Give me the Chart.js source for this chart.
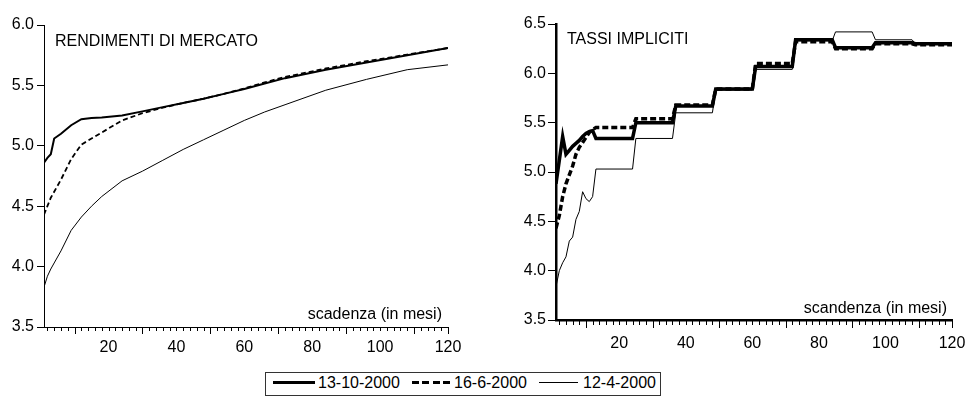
<!DOCTYPE html>
<html>
<head>
<meta charset="utf-8">
<script src="https://cdn.jsdelivr.net/npm/chart.js@4"></script>
<style>
  body { margin: 0; width: 965px; height: 396px; position: relative; background: #fff; overflow: hidden;
         font-family: "Liberation Sans", Arial, sans-serif; color: #000; }
  canvas { position: absolute; top: 0; }
  .note { position: absolute; font-size: 16px; line-height: 16px; white-space: nowrap; }
  #legend { position: absolute; left: 265px; top: 372px; width: 396px; height: 24px;
            border: 1px solid #333; box-sizing: border-box; }
  .sample { position: absolute; }
</style>
</head>
<body>
<canvas id="left-chart" width="480" height="370" style="left:0"></canvas>
<canvas id="right-chart" width="485" height="370" style="left:480px"></canvas>

<div class="note" style="left:55px;top:33px">RENDIMENTI DI MERCATO</div>
<div class="note" style="left:567px;top:31px">TASSI IMPLICITI</div>
<div class="note" style="right:523px;top:306px">scadenza (in mesi)</div>
<div class="note" style="right:18px;top:300px">scandenza (in mesi)</div>

<div id="legend"></div>
<div class="sample" style="left:273px;top:381px;width:42px;height:3px;background:#000"></div>
<div class="note" style="left:318px;top:375px">13-10-2000</div>
<div class="sample" style="left:412px;top:381px;width:38px;height:3px;background:repeating-linear-gradient(to right,#000 0 7px,transparent 7px 10.3px)"></div>
<div class="note" style="left:454px;top:375px">16-6-2000</div>
<div class="sample" style="left:539px;top:382px;width:39px;height:1px;background:#000"></div>
<div class="note" style="left:583px;top:375px">12-4-2000</div>

<script>
// market yields (left) - maturity in months
const leftMat = [1, 2, 3, 4, 6, 9, 12, 15, 18, 24, 30, 36, 42, 48, 54, 60, 66, 72, 84, 96, 108, 120];
const leftOct = [4.86, 4.90, 4.93, 5.06, 5.10, 5.17, 5.22, 5.23, 5.235, 5.25, 5.285, 5.32, 5.355, 5.39, 5.43, 5.47, 5.515, 5.56, 5.63, 5.69, 5.75, 5.81];
const leftJun = [4.43, 4.50, 4.57, 4.62, 4.72, 4.89, 5.01, 5.06, 5.11, 5.21, 5.27, 5.315, 5.355, 5.39, 5.43, 5.475, 5.525, 5.57, 5.64, 5.70, 5.755, 5.81];
const leftApr = [3.83, 3.92, 3.98, 4.03, 4.13, 4.30, 4.41, 4.50, 4.58, 4.71, 4.79, 4.88, 4.97, 5.05, 5.13, 5.21, 5.28, 5.34, 5.46, 5.55, 5.63, 5.67];

// implied forward rates (right)
const rightMat = [1, 2, 3, 4, 5, 6, 7, 8, 9, 10, 11, 12, 13, 24, 25, 36, 37, 48, 49, 60, 61, 72, 73, 84, 85, 96, 97, 108, 109, 120];
const rightOct = [4.88, 5.12, 5.36, 5.18, 5.22, 5.26, 5.29, 5.32, 5.36, 5.39, 5.41, 5.42, 5.34, 5.34, 5.50, 5.50, 5.67, 5.67, 5.84, 5.84, 6.07, 6.07, 6.34, 6.34, 6.26, 6.26, 6.31, 6.31, 6.30, 6.30];
const rightJun = [4.43, 4.56, 4.75, 4.88, 4.97, 5.06, 5.18, 5.25, 5.30, 5.35, 5.40, 5.43, 5.45, 5.45, 5.54, 5.54, 5.68, 5.68, 5.84, 5.84, 6.10, 6.10, 6.32, 6.32, 6.25, 6.25, 6.30, 6.30, 6.29, 6.29];
const rightApr = [3.84, 4.00, 4.08, 4.14, 4.30, 4.34, 4.52, 4.60, 4.80, 4.73, 4.70, 4.75, 5.03, 5.03, 5.34, 5.34, 5.60, 5.60, 5.83, 5.83, 6.04, 6.04, 6.33, 6.33, 6.42, 6.42, 6.34, 6.34, 6.30, 6.30];

const seriesLabels = ["13-10-2000", "16-6-2000", "12-4-2000"];
const xLabels = [20, 40, 60, 80, 100, 120];
const majorTicks = [10, 30, 50, 70, 90, 110, 120];
const leftYTicks = [3.5, 4.0, 4.5, 5.0, 5.5, 6.0];
const rightYTicks = [3.5, 4.0, 4.5, 5.0, 5.5, 6.0, 6.5];

const FONT = { family: '"Liberation Sans", Arial, sans-serif', size: 16 };

function pts(mats, vals) {
  return mats.map((m, i) => ({ x: m, y: vals[i] }));
}

// x axis tick marks: short ones every 2 months, longer ones at majorTicks
const xTickPlugin = {
  id: "xTickMarks",
  afterDraw(chart, args, opts) {
    const sx = chart.scales.x;
    const bottom = chart.chartArea.bottom + opts.offset;
    const ctx = chart.ctx;
    ctx.save();
    ctx.strokeStyle = "#000";
    ctx.lineWidth = 1;
    ctx.beginPath();
    for (let v = 2; v <= 120; v += 2) {
      const px = Math.round(sx.getPixelForValue(v)) + 0.5;
      ctx.moveTo(px, bottom);
      ctx.lineTo(px, bottom + opts.minor);
    }
    majorTicks.forEach((v) => {
      const px = Math.round(sx.getPixelForValue(v)) + 0.5;
      ctx.moveTo(px, bottom);
      ctx.lineTo(px, bottom + opts.major);
    });
    ctx.stroke();
    ctx.restore();
  },
};

function makeChart(id, cfg) {
  return new Chart(document.getElementById(id), {
    type: "line",
    data: {
      datasets: [
        { label: seriesLabels[0], data: pts(cfg.mat, cfg.series[0]), borderColor: "#000",
          borderWidth: cfg.widths[0], pointRadius: 0, tension: 0 },
        { label: seriesLabels[1], data: pts(cfg.mat, cfg.series[1]), borderColor: "#000",
          borderWidth: cfg.widths[1], borderDash: cfg.dash, pointRadius: 0, tension: 0 },
        { label: seriesLabels[2], data: pts(cfg.mat, cfg.series[2]), borderColor: "#000",
          borderWidth: cfg.widths[2], pointRadius: 0, tension: 0 },
      ],
    },
    plugins: [xTickPlugin],
    options: {
      responsive: false,
      animation: false,
      events: [],
      layout: { padding: { left: 0, top: cfg.top, right: cfg.right, bottom: 0 } },
      plugins: {
        legend: { display: false },
        tooltip: { enabled: false },
        xTickMarks: { minor: 4, major: 7, offset: cfg.axisWidth > 1 ? 1 : 0 },
      },
      scales: {
        x: {
          type: "linear",
          min: 1,
          max: 120,
          afterBuildTicks: (scale) => { scale.ticks = xLabels.map((v) => ({ value: v })); },
          afterFit: (scale) => {
            scale.height = cfg.xHeight;
            scale.paddingLeft = 0;
            scale.paddingRight = 0;
          },
          ticks: {
            autoSkip: false,
            maxRotation: 0,
            padding: cfg.xPad,
            color: "#000",
            font: FONT,
          },
          grid: { display: false, drawTicks: false },
          border: { display: true, color: "#000", width: cfg.axisWidth },
        },
        y: {
          min: 3.5,
          max: cfg.yMax,
          afterBuildTicks: (scale) => { scale.ticks = cfg.yTicks.map((v) => ({ value: v })); },
          afterFit: (scale) => { scale.width = cfg.yWidth; },
          ticks: {
            padding: cfg.yPad,
            color: "#000",
            font: FONT,
            callback: (v) => v.toFixed(1),
          },
          grid: { drawOnChartArea: false, drawTicks: true, tickLength: cfg.yTick, color: "#000", lineWidth: 1 },
          border: { display: true, color: "#000", width: cfg.axisWidth },
        },
      },
    },
  });
}

makeChart("left-chart", {
  mat: leftMat,
  series: [leftOct, leftJun, leftApr],
  widths: [2, 1.8, 1],
  dash: [5, 3],
  top: 25, right: 32, xHeight: 43, yWidth: 44,
  xPad: 11, yPad: 3, yTick: 7, axisWidth: 1,
  yMax: 6.0, yTicks: leftYTicks,
});

makeChart("right-chart", {
  mat: rightMat,
  series: [rightOct, rightJun, rightApr],
  widths: [3.5, 3.5, 1],
  dash: [6, 3],
  top: 24, right: 13, xHeight: 50, yWidth: 76,
  xPad: 14, yPad: 2, yTick: 8, axisWidth: 2.5,
  yMax: 6.5, yTicks: rightYTicks,
});
</script>
</body>
</html>
